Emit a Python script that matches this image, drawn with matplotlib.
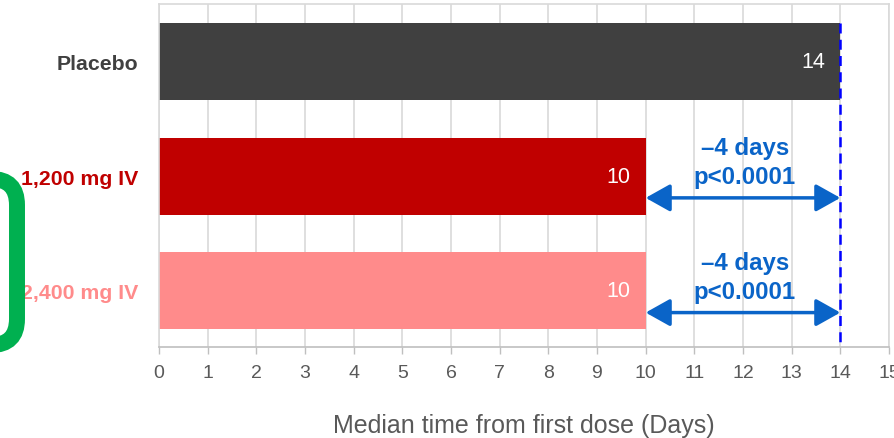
import matplotlib
matplotlib.use("Agg")
import matplotlib.pyplot as plt
from matplotlib.patches import FancyBboxPatch, FancyArrowPatch
from matplotlib.transforms import IdentityTransform

plt.rcParams['font.family'] = ['Liberation Sans', 'DejaVu Sans']

categories = ["Placebo", "1,200 mg IV", "2,400 mg IV"]
values = [14, 10, 10]
bar_colors = ["#404040", "#C00000", "#FF8B8B"]
ref_value = 14
diff_labels = ["\u20134 days", "\u20134 days"]
p_labels = ["p<0.0001", "p<0.0001"]
xticks = list(range(0, 16))
xlabel = "Median time from first dose (Days)"

W, H = 894, 439
fig = plt.figure(figsize=(W / 100, H / 100), dpi=100)
ax = fig.add_axes([159 / W, 1 - 348 / H, (889 - 159) / W, (348 - 5) / H])

ypos = list(range(len(categories)))
ax.barh(ypos, values, height=0.67, color=bar_colors, zorder=2)
ax.set_xlim(0, 15)
ax.set_ylim(2.49, -0.5)

ax.set_xticks(xticks)
ax.set_xticklabels([str(t) for t in xticks], fontsize=14, color="#595959")
ax.tick_params(axis='x', length=5, color="#BFBFBF", width=1, pad=7)
ax.set_yticks(ypos)
ax.set_yticklabels(categories, fontsize=15.3, fontweight='bold')
for lbl, c in zip(ax.get_yticklabels(), bar_colors):
    lbl.set_color(c)
ax.tick_params(axis='y', length=0, pad=15)
ax.grid(axis='x', color="#D9D9D9", linewidth=1.2, zorder=0)
for s in ax.spines.values():
    s.set_color("#D9D9D9")
    s.set_linewidth(1.2)
ax.spines['bottom'].set_color("#BFBFBF")
ax.set_xlabel(xlabel, fontsize=18, color="#595959", labelpad=23)

# value labels
for y, v in zip(ypos, values):
    ax.text(v - 0.31, y, str(v), color="white", fontsize=15.5, ha='right', va='center', zorder=3)

# dashed reference line
ax.plot([ref_value, ref_value], [-0.335, 2.49], color="#0000FF", linewidth=1.8,
        linestyle=(0, (4, 2.5)), zorder=4, clip_on=False)

# arrows and annotations
blue = "#0A64C8"
for i, (dl, pl) in enumerate(zip(diff_labels, p_labels)):
    y = ypos[i + 1]
    v = values[i + 1]
    arr = FancyArrowPatch((v, y + 0.19), (ref_value, y + 0.19),
                          arrowstyle="<|-|>,head_length=0.75,head_width=0.42",
                          mutation_scale=20, color=blue, linewidth=2.5, zorder=5,
                          shrinkA=0, shrinkB=0)
    ax.add_patch(arr)
    xm = (v + ref_value) / 2
    ax.text(xm + 0.04, y - 0.25, dl, color=blue, fontsize=17.3, fontweight='bold',
            ha='center', va='center', zorder=5)
    ax.text(xm + 0.04, y + 0.005, pl, color=blue, fontsize=17.3, fontweight='bold',
            ha='center', va='center', zorder=5)

# green bracket (rounded box partially off-figure)
top, bot = H - 180, H - 346
box = FancyBboxPatch((-60, bot), 77, top - bot,
                     boxstyle="round,pad=0,rounding_size=26",
                     transform=IdentityTransform(), facecolor='none',
                     edgecolor="#00B050", linewidth=11.5, zorder=10)
fig.patches.append(box)

fig.savefig("out.png", dpi=100)
